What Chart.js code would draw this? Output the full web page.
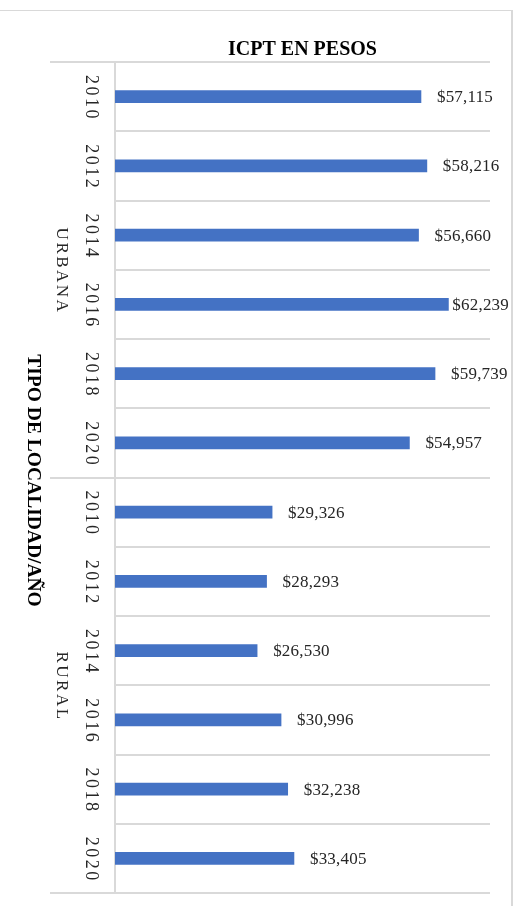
<!DOCTYPE html>
<html>
<head>
<meta charset="utf-8">
<script src="https://cdn.jsdelivr.net/npm/chart.js@4"></script>
<style>
  html,body{margin:0;padding:0;background:#fff;}
  #wrap{position:relative;width:522px;height:906px;overflow:hidden;}
  #frame{position:absolute;left:0;top:10px;width:511px;height:900px;border-top:1px solid #d9d9d9;border-right:2px solid #d9d9d9;}
  canvas{position:absolute;left:0;top:0;}
</style>
</head>
<body>
<div id="wrap"><div id="frame"></div><canvas id="c" width="522" height="906"></canvas></div>
<script>
const titulo = 'ICPT EN PESOS';
const tituloEje = 'TIPO DE LOCALIDAD/AÑO';
const grupos = ['URBANA', 'RURAL'];
const anios = ['2010', '2012', '2014', '2016', '2018', '2020'];
const urbana = [57115, 58216, 56660, 62239, 59739, 54957];
const rural = [29326, 28293, 26530, 30996, 32238, 33405];

const GRID = '#d9d9d9';
const SERIF = '"Liberation Serif", "Times New Roman", serif';

// texto girado 90° (se lee de arriba hacia abajo)
function vtext(ctx, txt, x, y, font, color, sp){
  ctx.save();
  ctx.translate(x, y);
  ctx.rotate(Math.PI / 2);
  ctx.font = font;
  ctx.fillStyle = color;
  ctx.letterSpacing = (sp || 0) + 'px';
  const w = ctx.measureText(txt).width;
  ctx.textAlign = 'left';
  ctx.textBaseline = 'middle';
  ctx.fillText(txt, -w / 2 + (sp || 0) / 2, 0);
  ctx.restore();
}

const etiquetas = {
  id: 'etiquetas',
  afterDraw(chart){
    const ctx = chart.ctx;
    const y = chart.scales.y;
    const area = chart.chartArea;
    // años
    y.ticks.forEach((t, i) => {
      vtext(ctx, y.getLabelForValue(i), 91, y.getPixelForTick(i), '18px ' + SERIF, '#262626', 2.5);
    });
    // grupos
    grupos.forEach((g, gi) => {
      const a = y.getPixelForTick(gi * anios.length);
      const b = y.getPixelForTick(gi * anios.length + anios.length - 1);
      vtext(ctx, g, 61, (a + b) / 2, '17px ' + SERIF, '#262626', 2.5);
    });
    // titulo del eje
    vtext(ctx, tituloEje, 33, (area.top + area.bottom) / 2 + 3, 'bold 19.5px ' + SERIF, '#000', 0);
    // valores
    const meta = chart.getDatasetMeta(0);
    ctx.save();
    ctx.font = '17px ' + SERIF;
    ctx.letterSpacing = '0.2px';
    ctx.fillStyle = '#262626';
    ctx.textBaseline = 'middle';
    meta.data.forEach((bar, i) => {
      const v = chart.data.datasets[0].data[i];
      const txt = '$' + v.toLocaleString('en-US');
      const w = ctx.measureText(txt).width;
      const x = Math.min(bar.x + 16, area.right + 19 - w);
      ctx.fillText(txt, x, bar.y + 1);
    });
    ctx.restore();
  }
};

const labels = grupos.flatMap(() => anios);
const valores = urbana.concat(rural);

new Chart(document.getElementById('c'), {
  type: 'bar',
  data: {
    labels,
    datasets: [{
      data: valores,
      backgroundColor: '#4472C4',
      barThickness: 12
    }]
  },
  options: {
    indexAxis: 'y',
    responsive: false,
    animation: false,
    devicePixelRatio: 1,
    layout: {padding: {left: 50, right: 32, top: 0, bottom: 13}},
    plugins: {
      legend: {display: false},
      tooltip: {enabled: false},
      title: {
        display: true,
        text: titulo,
        fullSize: false,
        color: '#000',
        font: {family: SERIF, size: 20, weight: 'bold'},
        padding: {top: 38, bottom: 0}
      }
    },
    scales: {
      x: {display: false, min: 0, max: 70000},
      y: {
        offset: true,
        ticks: {display: false},
        border: {display: true, color: GRID, width: 2},
        grid: {
          offset: true,
          color: GRID,
          lineWidth: 2,
          drawTicks: true,
          tickLength: 65,
          tickWidth: 2,
          tickColor: c => (c.index === undefined || c.index % anios.length === 0) ? GRID : 'rgba(0,0,0,0)'
        }
      }
    }
  },
  plugins: [etiquetas]
});
</script>
</body>
</html>
